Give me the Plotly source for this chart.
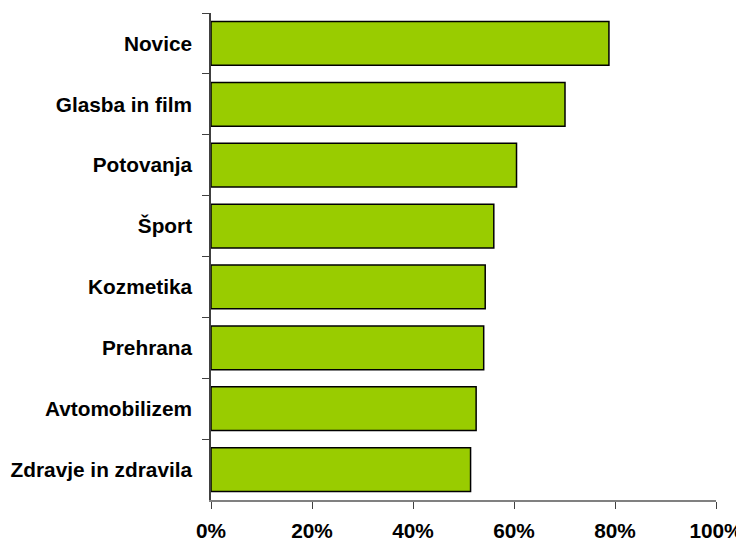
import plotly.graph_objects as go

categories = ["Novice", "Glasba in film", "Potovanja", "Šport", "Kozmetika",
              "Prehrana", "Avtomobilizem", "Zdravje in zdravila"]
values = [78.8, 70.1, 60.5, 56.0, 54.3, 54.0, 52.5, 51.4]
tick_vals = [0, 20, 40, 60, 80, 100]
tick_text = ["0%", "20%", "40%", "60%", "80%", "100%"]

font = dict(family="Liberation Sans, Arial, sans-serif", size=20.8, color="black", weight="bold")

fig = go.Figure(go.Bar(
    x=values, y=categories, orientation="h",
    marker=dict(color="#99CC00", line=dict(color="black", width=1.5)),
    width=0.72,
))

# page body has an 8px default margin, so the figure is 8px smaller
fig.update_layout(
    width=736, height=534,
    margin=dict(l=203, r=28, t=5, b=42),
    paper_bgcolor="white", plot_bgcolor="white",
    showlegend=False,
    font=font,
)
fig.update_xaxes(
    range=[0, 100], tickvals=tick_vals, ticktext=tick_text,
    showgrid=False, zeroline=False, automargin=False,
    showline=True, linecolor="#808080", linewidth=1.5,
    ticks="outside", ticklen=7, tickcolor="#404040", tickwidth=1,
    tickfont=font, ticklabelstandoff=4,
)
fig.update_yaxes(
    autorange="reversed", showgrid=False, zeroline=False, automargin=False,
    showline=True, linecolor="#404040", linewidth=1.5,
    ticks="outside", ticklen=7, tickcolor="#404040", tickwidth=1,
    tickson="boundaries", tickfont=font, ticklabelstandoff=13,
)

fig.write_html("out.html")
